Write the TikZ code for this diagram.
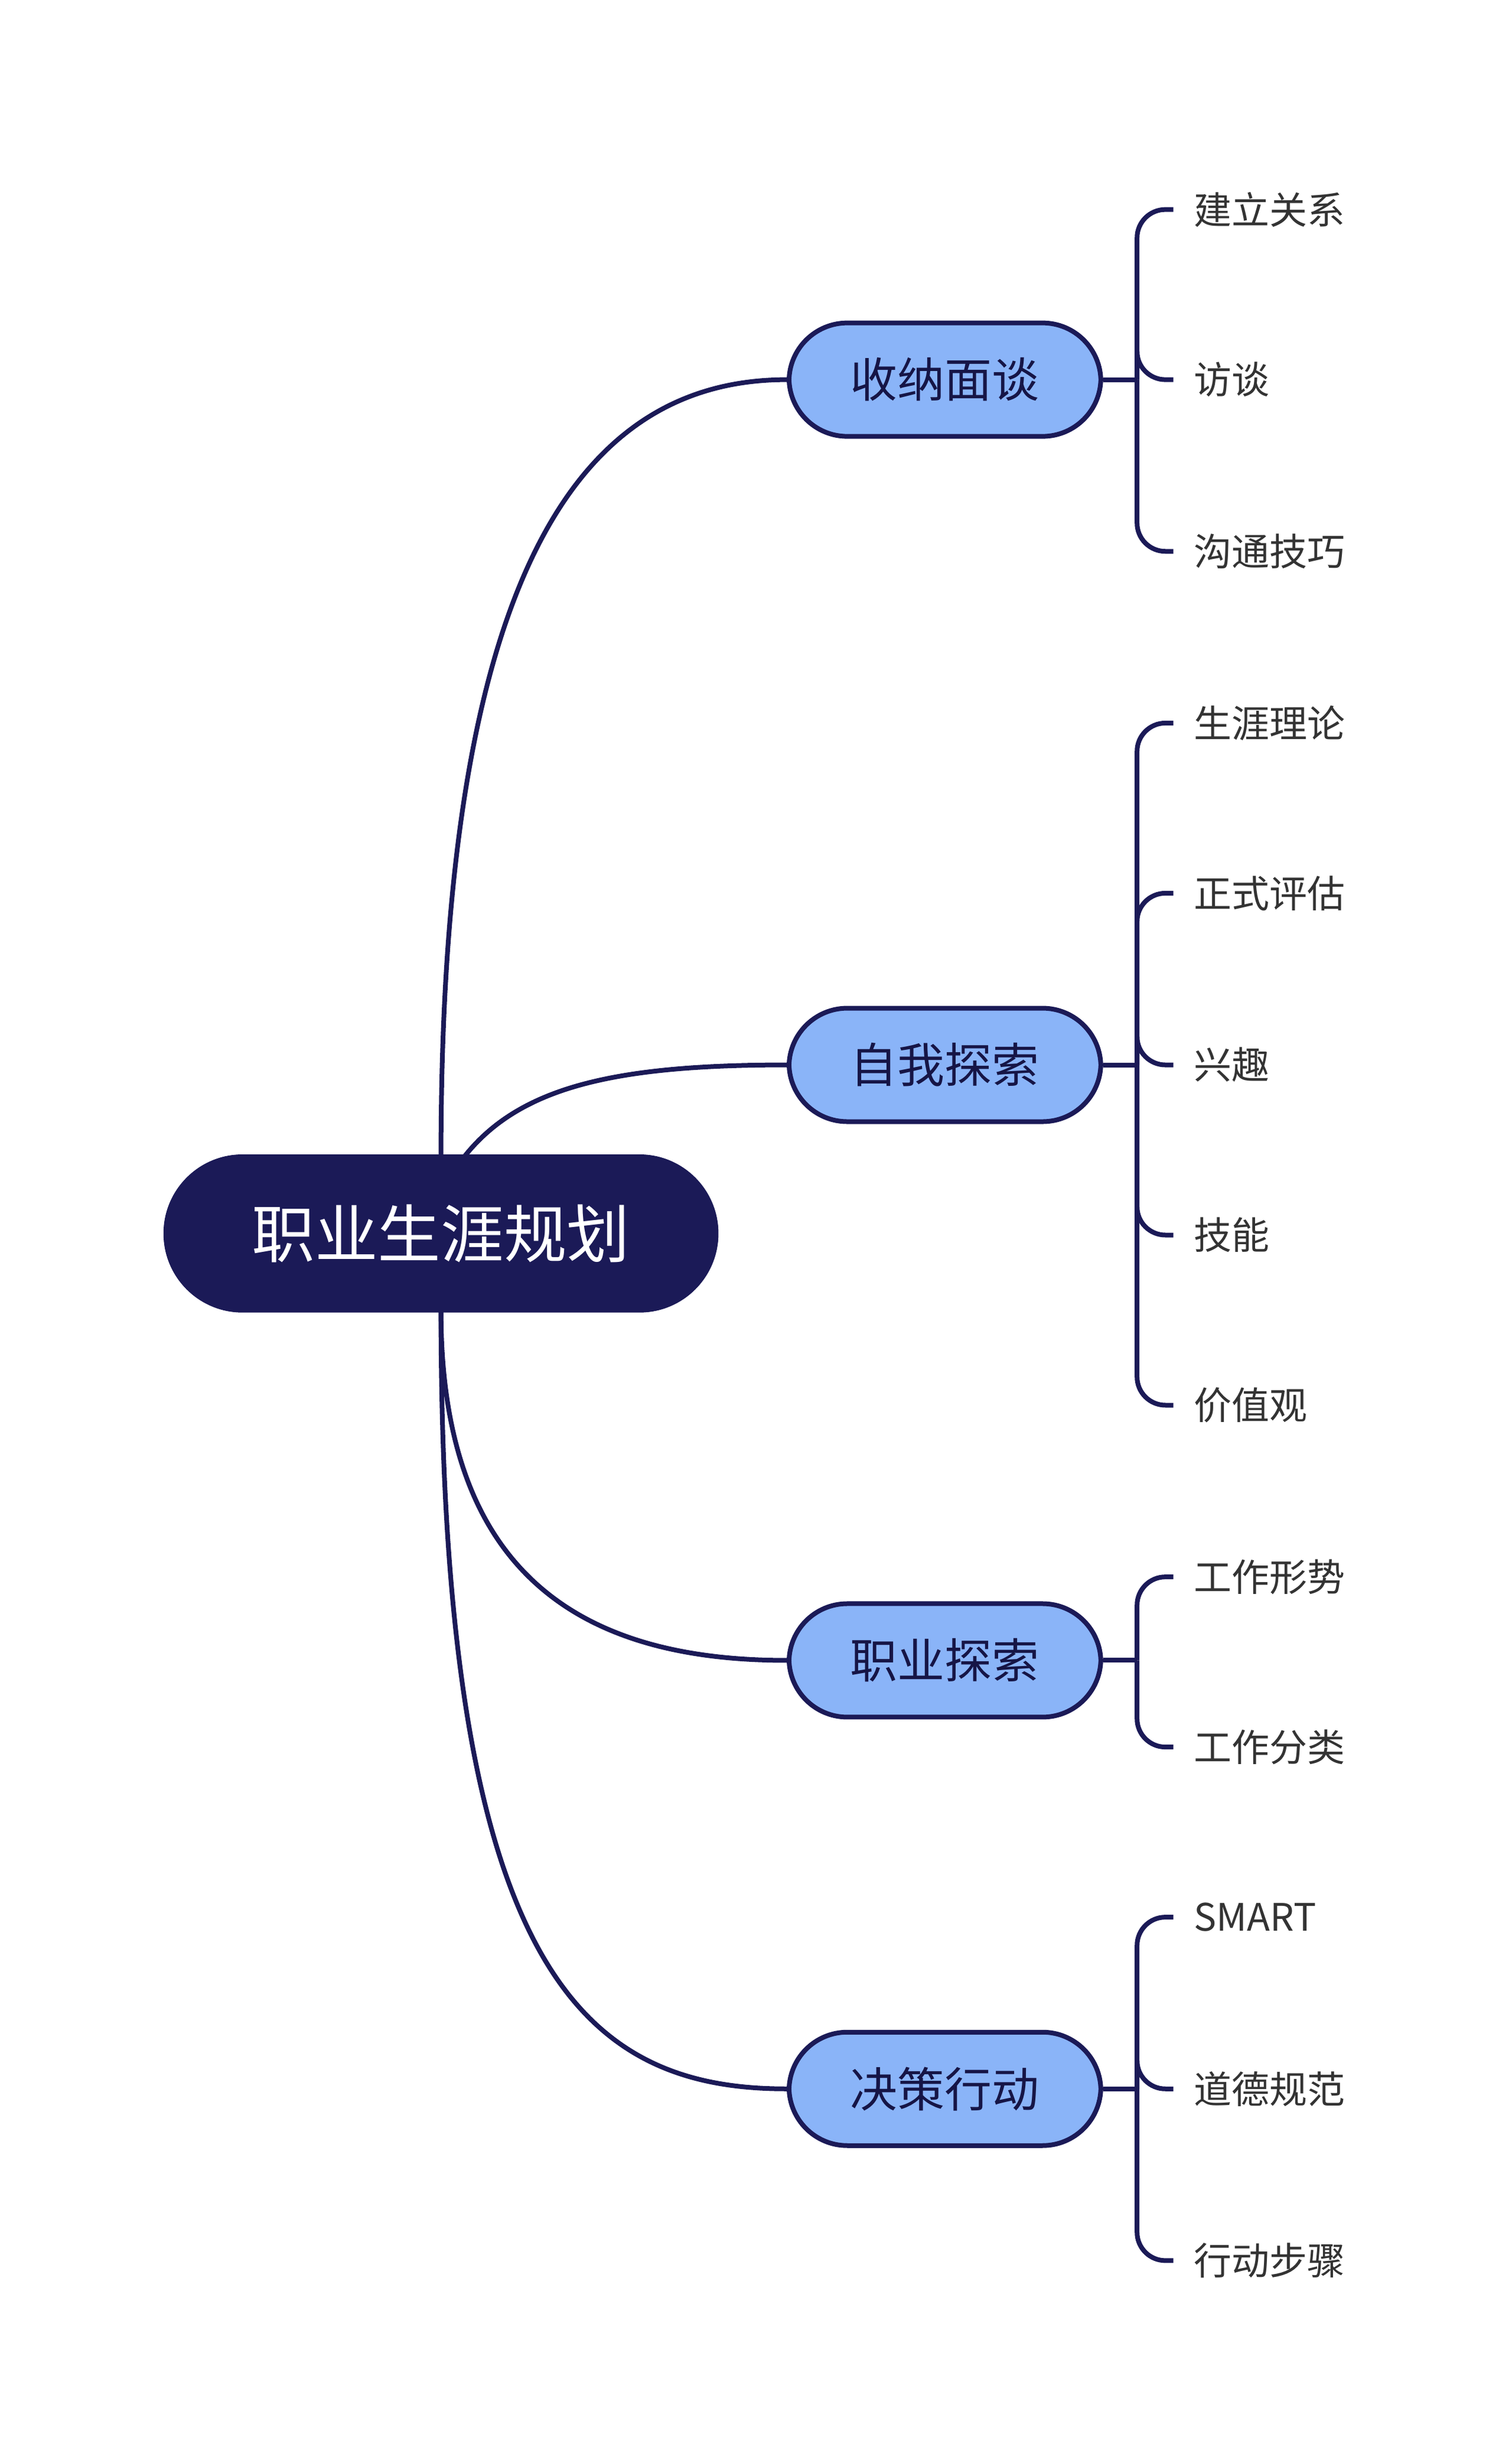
\documentclass[tikz,border=0pt]{standalone}
\usepackage{fontspec}
\setmainfont{Noto Sans CJK SC}
\definecolor{navy}{HTML}{1B1A57}
\definecolor{lblue}{HTML}{8AB4F8}
\definecolor{leaftxt}{HTML}{333333}
\begin{document}
\begin{tikzpicture}[x=1pt,y=1pt,
 rootbox/.style={rounded corners=50pt,fill=navy,draw=navy,minimum width=352pt,minimum height=100pt,text=white,font=\fontsize{40}{48}\selectfont},
 topicbox/.style={rounded corners=37pt,fill=lblue,draw=navy,line width=3pt,minimum width=198pt,minimum height=72pt,text=navy!80!black,font=\fontsize{30}{36}\selectfont},
 leafbox/.style={anchor=west,inner sep=0pt,text=leaftxt,font=\fontsize{24}{28}\selectfont},
 con/.style={draw=navy,line width=3pt},
 br/.style={draw=navy,line width=3pt,rounded corners=18pt}]
\useasboundingbox (0,0) rectangle (960,-1547);
\node[rootbox] (root) at (280,-783) {职业生涯规划};
\node[topicbox] (t1) at (600,-241) {收纳面谈};
\node[topicbox] (t2) at (600,-676) {自我探索};
\node[topicbox] (t3) at (600,-1054) {职业探索};
\node[topicbox] (t4) at (600,-1326) {决策行动};
\coordinate (r1) at (280,-734);
\coordinate (r2) at (295,-734);
\coordinate (r3) at (280,-832);
\draw[con] (r1) .. controls (280,-380) and (360,-241) .. (t1.west);
\draw[con] (r2) .. controls (330,-690) and (390,-676) .. (t2.west);
\draw[con] (r3) .. controls (280,-1000) and (370,-1054) .. (t3.west);
\draw[con] (r3) .. controls (280,-1250) and (370,-1326) .. (t4.west);
\foreach \t/\y in {t1/-241,t2/-676,t3/-1054,t4/-1326}{\coordinate (\t h) at (722,\y);}
\foreach \t/\name/\y in {t1/a1/-133,t1/a2/-241,t1/a3/-350,t2/b1/-459,t2/b2/-567,t2/b3/-676,t2/b4/-784,t2/b5/-892,t3/c1/-1001,t3/c2/-1109,t4/d1/-1217,t4/d2/-1326,t4/d3/-1435}{\coordinate (\name) at (745,\y);}
\foreach \t in {t1,t2,t3,t4}{\draw[con] (\t.east) -- (\t h);}
\node[leafbox] (l1) at (758,-133) {建立关系};
\node[leafbox] (l2) at (758,-241) {访谈};
\node[leafbox] (l3) at (758,-350) {沟通技巧};
\node[leafbox] (l4) at (758,-459) {生涯理论};
\node[leafbox] (l5) at (758,-567) {正式评估};
\node[leafbox] (l6) at (758,-676) {兴趣};
\node[leafbox] (l7) at (758,-784) {技能};
\node[leafbox] (l8) at (758,-892) {价值观};
\node[leafbox] (l9) at (758,-1001) {工作形势};
\node[leafbox] (l10) at (758,-1109) {工作分类};
\node[leafbox] (l11) at (758,-1217) {SMART};
\node[leafbox] (l12) at (758,-1326) {道德规范};
\node[leafbox] (l13) at (758,-1435) {行动步骤};
\foreach \h/\c in {t1h/a1,t1h/a2,t1h/a3,t2h/b1,t2h/b2,t2h/b3,t2h/b4,t2h/b5,t3h/c1,t3h/c2,t4h/d1,t4h/d2,t4h/d3}{\draw[br] (\h) |- (\c);}
\end{tikzpicture}
\end{document}
